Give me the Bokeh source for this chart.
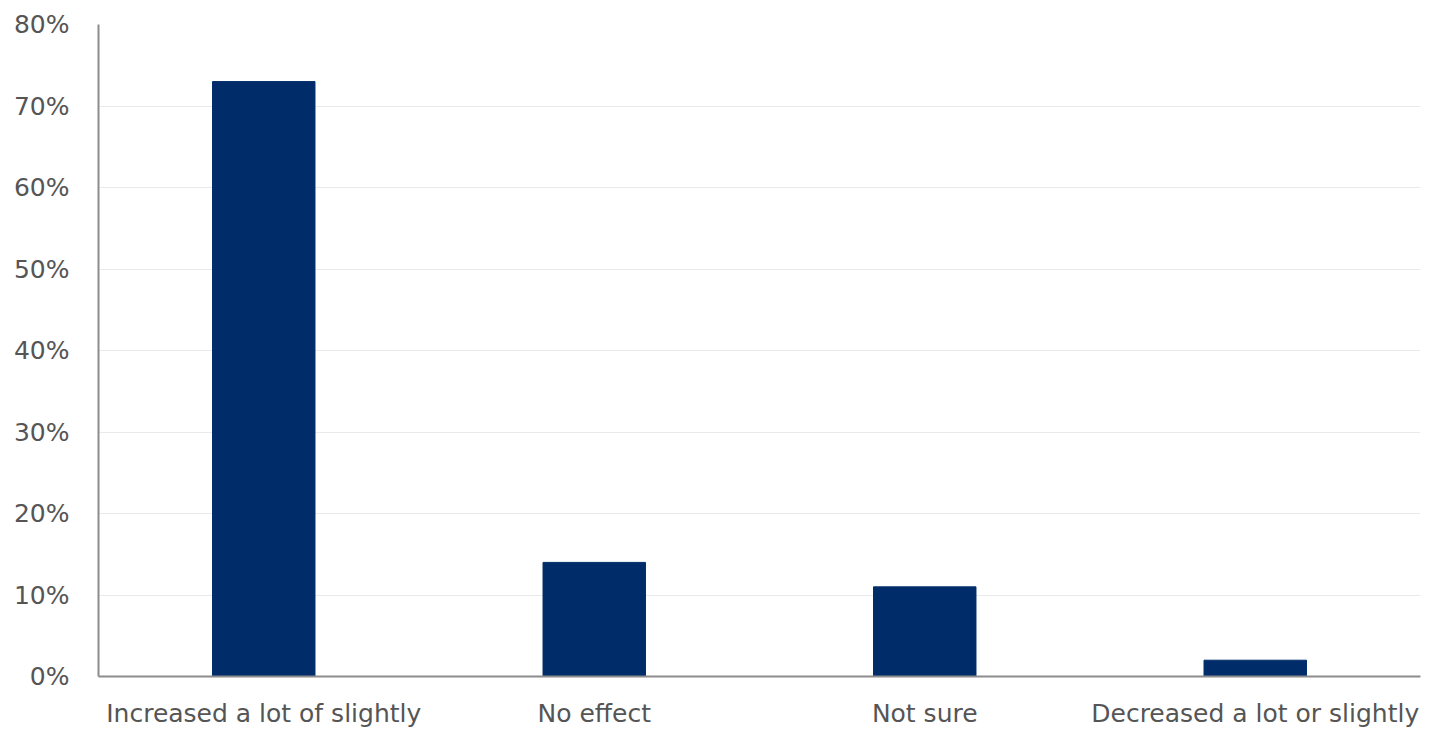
from bokeh.plotting import figure
from bokeh.models import PrintfTickFormatter, FixedTicker, Range1d
from bokeh.embed import file_html
from bokeh.resources import INLINE

categories = ["Increased a lot of slightly", "No effect", "Not sure", "Decreased a lot or slightly"]
values = [73, 14, 11, 2]
y_ticks = [0, 10, 20, 30, 40, 50, 60, 70, 80]

p = figure(x_range=categories, y_range=Range1d(0, 80), width=1421, height=733,
           output_backend="svg", toolbar_location=None,
           min_border_left=98, min_border_top=24, min_border_right=1, min_border_bottom=57)
p.x_range.range_padding = 0
p.vbar(x=categories, top=values, width=0.31, color="#002D6A")

p.outline_line_color = None
p.xgrid.grid_line_color = None
p.ygrid.grid_line_color = "#e9e9e9"
p.ygrid.grid_line_width = 1

for ax in (p.xaxis[0], p.yaxis[0]):
    ax.axis_line_color = "#8c8c8c"
    ax.axis_line_width = 2
    ax.major_tick_line_color = None
    ax.minor_tick_line_color = None
    ax.major_label_text_color = "#555555"
    ax.major_label_text_font = "DejaVu Sans"
    ax.major_label_text_font_size = "25px"

p.yaxis.ticker = FixedTicker(ticks=y_ticks)
p.yaxis.formatter = PrintfTickFormatter(format="%d%%")
p.yaxis.major_label_standoff = 23
p.xaxis.major_label_standoff = 16

open("out.html", "w").write(file_html(p, INLINE))
